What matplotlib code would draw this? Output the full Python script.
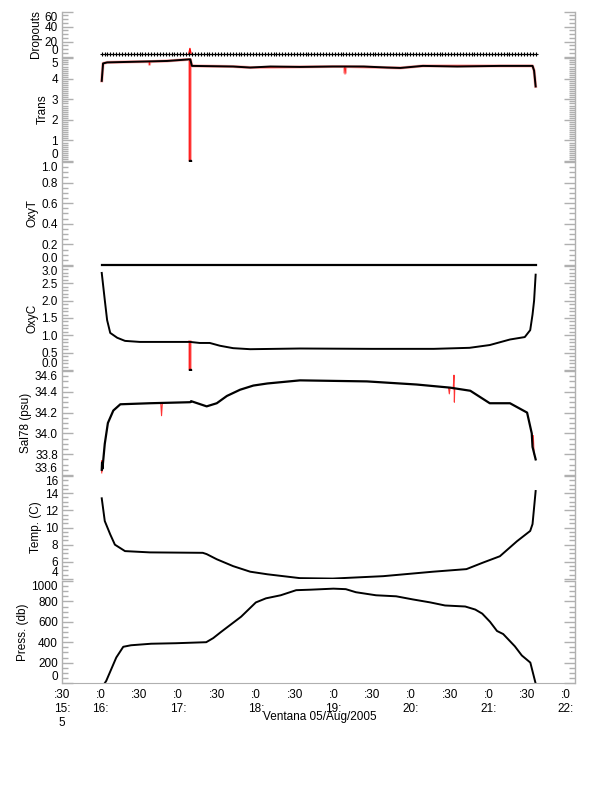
import matplotlib
matplotlib.use("Agg")
import matplotlib.pyplot as plt
from matplotlib.ticker import MultipleLocator, FormatStrFormatter
import numpy as np

plt.rcParams["font.family"] = ["Liberation Sans", "DejaVu Sans"]
plt.rcParams["font.size"] = 8.5

# ---- data (time in decimal hours, 05 Aug 2005) ----
drop_t = np.linspace(16.03, 21.61, 150)
drop_n = np.full(drop_t.shape, 3.5)
drop_raw_t = [17.15, 17.165, 17.18]
drop_raw_n = [3.5, 11.0, 3.5]

trans_t = [16.031, 16.048, 16.10, 16.43, 16.87, 17.16, 17.17, 17.19, 17.72, 17.94, 18.20,
           18.58, 19.0, 19.40, 19.70, 19.87, 20.16, 20.60, 21.15, 21.57, 21.59, 21.61]
trans_v = [3.9, 4.75, 4.8, 4.83, 4.87, 4.95, 4.95, 4.63, 4.6, 4.55, 4.60,
           4.58, 4.6, 4.60, 4.55, 4.53, 4.63, 4.60, 4.63, 4.63, 4.4, 3.63]
# raw record, segments split by NaN
trans_raw_t = [16.031, 16.048, 16.10, 16.43, 16.64, 16.645, 16.65, 16.87, 17.160, 17.165,
               17.170, 17.19, 17.72, 17.94, 18.58, 19.0, 19.15, 19.16, 19.17, 19.87,
               20.16, 21.15, 21.57, 21.59, 21.61]
trans_raw_v = [3.9, 4.75, 4.8, 4.83, 4.84, 4.70, 4.84, 4.87, 4.95, 0.0,
               4.95, 4.63, 4.6, 4.55, 4.58, 4.6, 4.6, 4.27, 4.6, 4.53,
               4.63, 4.63, 4.63, 4.4, 3.63]

oxyt_t = [16.031, 21.61]
oxyt_v = [0.0, 0.0]

oxyc_t = [16.031, 16.07, 16.10, 16.14, 16.23, 16.33, 16.52, 17.166, 17.29, 17.42, 17.55,
          17.72, 17.94, 18.58, 19.5, 20.3, 20.76, 21.02, 21.28, 21.47, 21.54, 21.57, 21.59, 21.61]
oxyc_v = [2.8, 2.02, 1.44, 1.07, 0.93, 0.84, 0.81, 0.81, 0.78, 0.78, 0.70,
          0.63, 0.60, 0.62, 0.61, 0.61, 0.64, 0.72, 0.88, 0.95, 1.15, 1.6, 2.0, 2.75]
oxyc_raw_t = [17.160, 17.165, 17.170]
oxyc_raw_v = [0.81, 0.0, 0.81]

sal_t = [16.031, 16.035, 16.04, 16.07, 16.11, 16.18, 16.27, 16.65, 17.17, 17.18, 17.38,
         17.51, 17.64, 17.81, 17.98, 18.16, 18.58, 19.44, 20.08, 20.51, 20.77, 21.02,
         21.28, 21.50, 21.56, 21.57, 21.61]
sal_v = [33.65, 33.72, 33.66, 33.9, 34.1, 34.22, 34.28, 34.29, 34.30, 34.31, 34.26,
         34.29, 34.36, 34.42, 34.46, 34.48, 34.51, 34.50, 34.47, 34.44, 34.41, 34.29,
         34.29, 34.20, 34.0, 33.87, 33.75]
sal_raw_t = [16.031, 16.034, 16.037, np.nan, 16.79, 16.80, 16.81, np.nan,
             20.49, 20.50, 20.51, np.nan, 20.55, 20.56, 20.565, 20.57, np.nan,
             21.57, 21.58, 21.59]
sal_raw_v = [33.62, 33.74, 33.64, np.nan, 34.29, 34.17, 34.29, np.nan,
             34.44, 34.38, 34.44, np.nan, 34.43, 34.56, 34.30, 34.43, np.nan,
             33.9, 33.98, 33.8]

temp_t = [16.031, 16.07, 16.14, 16.20, 16.33, 16.65, 17.33, 17.38, 17.51, 17.72, 17.94,
          18.16, 18.58, 19.0, 19.65, 20.29, 20.72, 20.93, 21.15, 21.37, 21.54, 21.57, 21.61]
temp_v = [13.4, 10.75, 9.2, 8.0, 7.25, 7.1, 7.05, 6.9, 6.3, 5.5, 4.85,
          4.55, 4.1, 4.05, 4.33, 4.85, 5.15, 5.9, 6.65, 8.4, 9.6, 10.4, 14.25]

press_t = [16.035, 16.07, 16.20, 16.29, 16.39, 16.65, 16.97, 17.36, 17.45, 17.55, 17.81,
           18.0, 18.13, 18.32, 18.52, 18.71, 19.0, 19.16, 19.29, 19.55, 19.81, 20.02,
           20.25, 20.44, 20.70, 20.83, 20.92, 21.02, 21.11, 21.19, 21.34, 21.43, 21.54, 21.61]
press_v = [-20, 20, 250, 355, 370, 385, 390, 400, 440, 500, 650,
           790, 830, 860, 910, 915, 925, 920, 890, 860, 850, 820,
           790, 760, 750, 720, 680, 600, 510, 480, 360, 270, 200, -10]

xtick_pos = [15.5, 16.0, 16.5, 17.0, 17.5, 18.0, 18.5, 19.0, 19.5, 20.0, 20.5, 21.0, 21.5, 22.0]
xtick_lab = [":30\n15:\n5", ":0\n16:", ":30", ":0\n17:", ":30", ":0\n18:", ":30", ":0\n19:",
             ":30", ":0\n20:", ":30", ":0\n21:", ":30", ":0\n22:"]

W, H = 612, 785
GRAY = "#b0b0b0"
X0, X1 = 62, 575
XLIM = (15.52, 22.116)

# (top px, bottom px, ylim, major, minor, fmt, label)
panels = [
    (11.7, 56.7, (0, 60), 20, 5, "%d", "Dropouts"),
    (58.3, 161, (0, 5), 1, 0.1, "%d", "Trans"),
    (162, 265, (0, 1), 0.2, 0.05, "%.1f", "OxyT"),
    (266, 370, (0, 3), 0.5, 0.1, "%.1f", "OxyC"),
    (371, 475, (33.6, 34.6), 0.2, 0.05, "%.1f", "Sal78 (psu)"),
    (476, 579, (4, 16), 2, 0.5, "%d", "Temp. (C)"),
    (581, 683, (0, 1000), 200, 50, "%d", "Press. (db)"),
]

fig = plt.figure(figsize=(W / 100, H / 100), dpi=100)
axes = []
for top, bot, ylim, major, minor, fmt, label in panels:
    ax = fig.add_axes([X0 / W, 1 - bot / H, (X1 - X0) / W, (bot - top) / H])
    ax.set_xlim(*XLIM)
    ax.set_ylim(*ylim)
    ax.yaxis.set_major_locator(MultipleLocator(major))
    ax.yaxis.set_minor_locator(MultipleLocator(minor))
    ax.yaxis.set_major_formatter(FormatStrFormatter(fmt))
    for side in ("top", "bottom"):
        ax.spines[side].set_visible(False)
    for side in ("left", "right"):
        ax.spines[side].set_color(GRAY)
        ax.spines[side].set_linewidth(1.0)
    ax.tick_params(axis="y", which="both", direction="in", left=True, right=True,
                   color=GRAY, width=1.0, labelsize=8.5, pad=3)
    ax.tick_params(axis="y", which="major", length=8)
    ax.tick_params(axis="y", which="minor", length=4.5)
    ax.tick_params(axis="x", which="both", bottom=False, labelbottom=False)
    ax.set_ylabel(label, fontsize=8.5, labelpad=2)
    ax.patch.set_alpha(0)
    axes.append(ax)

ax_d, ax_tr, ax_ot, ax_oc, ax_s, ax_t, ax_p = axes

ax_d.plot(drop_raw_t, drop_raw_n, color="red", lw=1.0)
ax_d.plot(drop_t, drop_n, color="black", lw=0.8, marker="+", ms=3, mew=0.8)

ax_tr.plot(trans_raw_t, trans_raw_v, color="red", lw=2.2, alpha=0.35)
ax_tr.plot(trans_raw_t, trans_raw_v, color="red", lw=0.7, alpha=0.8)
ax_tr.plot(trans_t, trans_v, color="black", lw=1.4)
ax_tr.plot([17.165], [0.0], "s", color="black", ms=2)

ax_ot.plot(oxyt_t, oxyt_v, color="black", lw=1.6, clip_on=False)

ax_oc.plot(oxyc_raw_t, oxyc_raw_v, color="red", lw=2.2, alpha=0.35)
ax_oc.plot(oxyc_raw_t, oxyc_raw_v, color="red", lw=0.7, alpha=0.8)
ax_oc.plot(oxyc_t, oxyc_v, color="black", lw=1.4)
ax_oc.plot([17.165], [0.0], "s", color="black", ms=2)

ax_s.plot(sal_raw_t, sal_raw_v, color="red", lw=0.8, alpha=0.8)
ax_s.plot(sal_t, sal_v, color="black", lw=1.6)

ax_t.plot(temp_t, temp_v, color="black", lw=1.4)

ax_p.plot(press_t, press_v, color="black", lw=1.4)
ax_p.spines["bottom"].set_visible(True)
ax_p.spines["bottom"].set_color(GRAY)
ax_p.set_xticks(xtick_pos)
ax_p.set_xticklabels(xtick_lab, linespacing=1.25)
ax_p.tick_params(axis="x", which="both", bottom=True, labelbottom=True, length=0,
                 pad=4, labelsize=8.5)

fig.text(320 / W, 1 - 717 / H, "Ventana 05/Aug/2005", ha="center", va="center", fontsize=8.5)

# end labels sit inside the panel, like the original plotting package
fig.canvas.draw()
for ax in axes:
    lo, hi = ax.get_ylim()
    for tick in ax.yaxis.get_major_ticks():
        loc = tick.get_loc()
        if np.isclose(loc, lo):
            tick.label1.set_va("bottom")
        elif np.isclose(loc, hi):
            tick.label1.set_va("top")

fig.savefig("out.png", dpi=100)
